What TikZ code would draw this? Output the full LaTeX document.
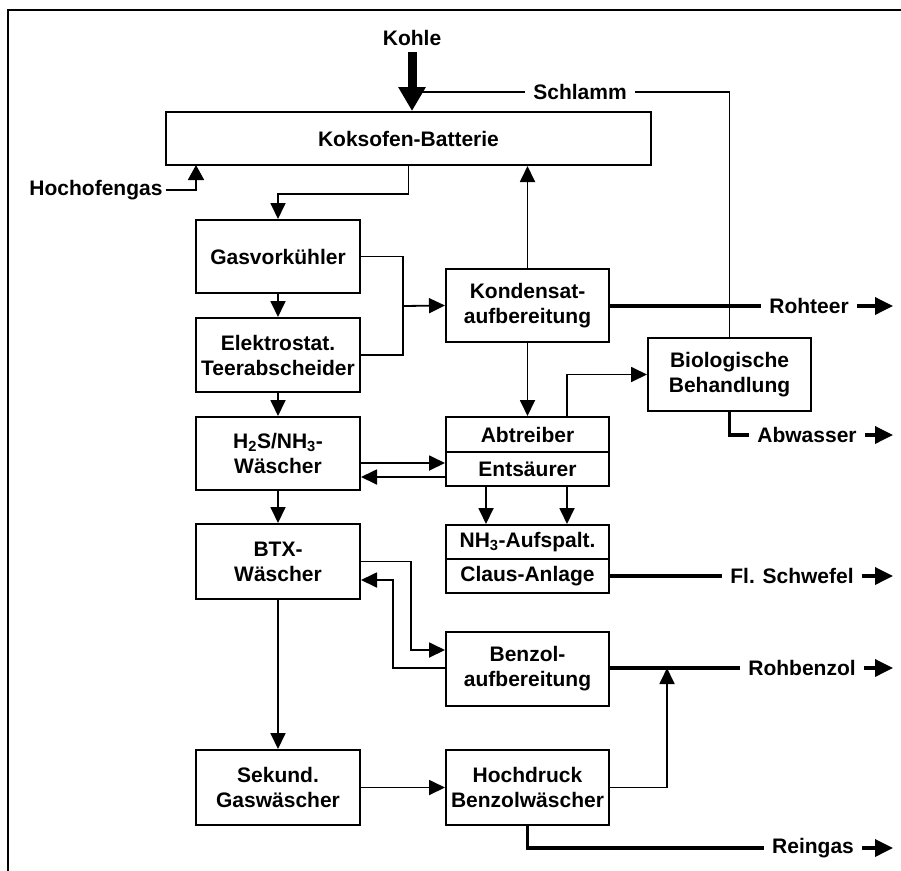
\documentclass[tikz,border=0pt]{standalone}
\usepackage{fontspec}
\setmainfont{Liberation Sans}
\usetikzlibrary{arrows.meta,calc}
\begin{document}
\begin{tikzpicture}[x=1pt,y=-1pt,
  every node/.style={font=\bfseries\fontsize{21}{25}\selectfont},
  bx/.style={draw, line width=2pt, inner sep=0pt, align=center},
  ln/.style={line width=1.8pt},
  con/.style={line width=1.8pt, -{Triangle[length=16pt,width=15pt]}},
  outl/.style={line width=3.5pt},
  outa/.style={line width=3.5pt, -{Triangle[length=18pt,width=17pt]}},
  lbl/.style={inner xsep=8pt, inner ysep=2pt}]
\useasboundingbox (0,0) rectangle (901,870);
% frame
\draw[line width=2.5pt] (8,871) -- (8,10) -- (902,10);

% boxes
\node[bx, minimum width=485pt, minimum height=53pt] (kok) at (408.5,138.5) {Koksofen-Batterie};
\node[bx, minimum width=164pt, minimum height=73pt] (gas) at (278,256.5) {Gasvorkühler};
\node[bx, minimum width=164pt, minimum height=74pt] (ele) at (278,355) {Elektrostat.\\Teerabscheider};
\node[bx, minimum width=164pt, minimum height=73pt] (h2s) at (278,453.5) {H\textsubscript{2}S/NH\textsubscript{3}-\\Wäscher};
\node[bx, minimum width=164pt, minimum height=75pt] (btx) at (278,561.5) {BTX-\\Wäscher};
\node[bx, minimum width=164pt, minimum height=75pt] (sek) at (278,787.5) {Sekund.\\Gaswäscher};
\node[bx, minimum width=163pt, minimum height=73pt] (kon) at (527.5,305.5) {Kondensat-\\aufbereitung};
\node[bx, minimum width=163pt, minimum height=35pt] (abt) at (527.5,434.5) {Abtreiber};
\node[bx, minimum width=163pt, minimum height=34pt] (ent) at (527.5,469) {Entsäurer};
\node[bx, minimum width=163pt, minimum height=34pt] (nh3) at (527.5,542) {NH\textsubscript{3}-Aufspalt.};
\node[bx, minimum width=163pt, minimum height=34pt] (cla) at (527.5,576) {Claus-Anlage};
\node[bx, minimum width=163pt, minimum height=74pt] (ben) at (527.5,669) {Benzol-\\aufbereitung};
\node[bx, minimum width=163pt, minimum height=75pt] (hoc) at (527.5,787.5) {Hochdruck\\Benzolwäscher};
\node[bx, minimum width=163pt, minimum height=73pt] (bio) at (729.5,374.5) {Biologische\\Behandlung};

% labels
\node (kohle) at (412,38) {Kohle};
\node[inner xsep=3pt] (hof) at (96,190) {Hochofengas};
\node[lbl] (rt) at (809,306) {Rohteer};
\node[lbl] (aw) at (807,435) {Abwasser};
\node[lbl] (fs) at (792,576) {Fl. Schwefel};
\node[lbl] (rb) at (802,668) {Rohbenzol};
\node[lbl] (rg) at (813,848) {Reingas};

\coordinate (rtE) at (893,306);
\coordinate (awE) at (893,435);
\coordinate (fsE) at (893,576);
\coordinate (rbE) at (893,668);
\coordinate (rgE) at (893,848);
\coordinate (sj) at (412,92);
\coordinate (kIn) at (kohle |- kok.north);
\coordinate (hofIn) at (196,165);
\coordinate (j1) at (403,306);
\coordinate (hj) at (667,668);

% Schlamm return
\draw[ln] (bio.north) |- (sj);
\node[lbl, fill=white, inner ysep=0pt] (schl) at (580,92) {Schlamm};
% Kohle feed
\draw[line width=9pt, -{Triangle[length=24pt,width=26pt]}, shorten <=3pt] (kohle.south) -- (kIn);
% Hochofengas
\draw[ln, -{Triangle[length=15pt,width=16pt]}] (hof.east) -| (hofIn);

% main gas path
\draw[con] (kok.south) -- ++(0,28) -| (gas.north);
\draw[con] (gas.south) -- (ele.north);
\draw[con] (ele.south) -- (h2s.north);
\draw[con] (h2s.south) -- (btx.north);
\draw[con] (btx.south) -- (sek.north);
\draw[con] (sek.east) -- (hoc.west);

% condensate
\draw[ln] (gas.east) -| (j1) |- (ele.east);
\draw[con] (j1) -- (kon.west);
\draw[con] (kon.north) -- (kon.north |- kok.south);
\draw[con] (kon.south) -- (abt.north);
\draw[con] ($(abt.north)+(39.5,0)$) |- (bio.west);

% H2S/NH3 loop
\draw[con] ($(h2s.east|-ent.west)+(0,-6)$) -- ($(ent.west)+(0,-6)$);
\draw[con] ($(ent.west)+(0,8)$) -- ($(h2s.east|-ent.west)+(0,8)$);
\draw[con] ($(ent.south)+(-41.5,0)$) -- ($(nh3.north)+(-41.5,0)$);
\draw[con] ($(ent.south)+(39.5,0)$) -- ($(nh3.north)+(39.5,0)$);

% BTX loop
\draw[con] (btx.east) -| ($(ben.west)+(-34,-19)$) -- ($(ben.west)+(0,-19)$);
\draw[con] ($(ben.west)+(0,-1)$) -| ($(btx.east)+(32,18.5)$) -- ($(btx.east)+(0,18.5)$);

% Hochdruck to Rohbenzol
\draw[con] (hoc.east) -| (hj);

% outputs
\draw[outl] (kon.east |- rt.west) -- (rt.west);
\draw[outa] (rt.east) -- (rtE);
\draw[outl] (bio.south) |- (aw.west);
\draw[outa] (aw.east) -- (awE);
\draw[outl] (cla.east) -- (fs.west);
\draw[outa] (fs.east) -- (fsE);
\draw[outl] (ben.east |- rb.west) -- (rb.west);
\draw[outa] (rb.east) -- (rbE);
\draw[outl] (hoc.south) |- (rg.west);
\draw[outa] (rg.east) -- (rgE);
\end{tikzpicture}
\end{document}
